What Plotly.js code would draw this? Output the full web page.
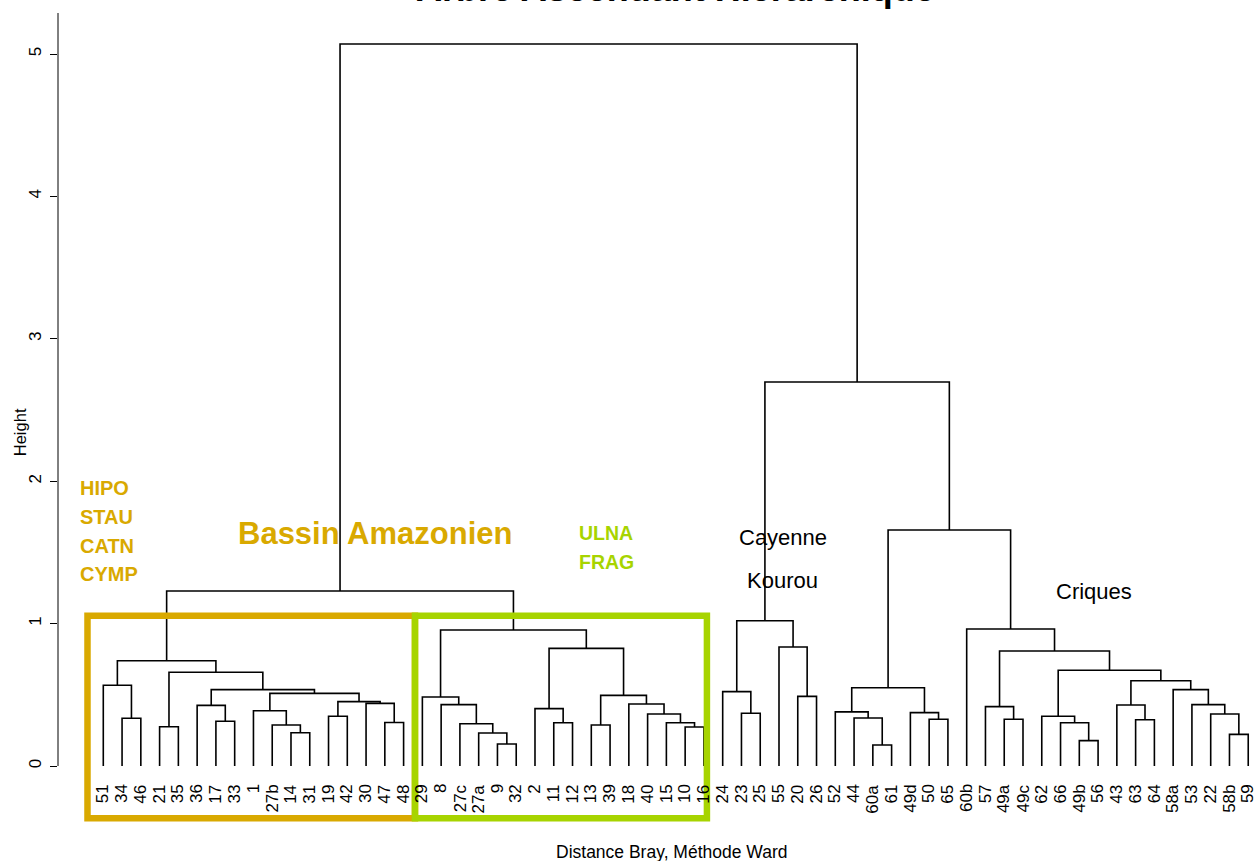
<!DOCTYPE html>
<html>
<head>
<meta charset="utf-8">
<script src="https://cdn.plot.ly/plotly-3.0.1.min.js"></script>
<style>html,body{margin:0;padding:0;background:#fff;}#chart{width:1257px;height:861px;}</style>
</head>
<body>
<div id="chart"></div>
<script>
// Leaf order (left to right)
const leafLabels = ["51","34","46","21","35","36","17","33","1","27b","14","31","19","42","30","47","48",
  "29","8","27c","27a","9","32","2","11","12","13","39","18","40","15","10","16",
  "24","23","25","55","20","26",
  "52","44","60a","61","49d","50","65",
  "60b","57","49a","49c","62","66","49b","56","43","63","64","58a","53","22","58b","59"];

// Merges: children (leaf label or "m<k>" = k-th merge) and merge height
const mergeLeft  = ["34","51","21","17","36","14","27b","1","19","47","30","m8","m7","m4","m2","m1",
  "9","27a","27c","8","29","11","2","13","10","15","40","18","m23","m22","m20","m15",
  "23","24","20","55","m33",
  "60a","44","52","50","49d","m39",
  "49a","57","49b","66","62","63","43","58b","22","53","58a","m49","m47","m44","60b","m42","m36","m31"];
const mergeRight = ["46","m0","35","33","m3","31","m5","m6","42","48","m9","m10","m11","m12","m13","m14",
  "32","m16","m17","m18","m19","12","m21","39","16","m24","m25","m26","m27","m28","m29","m30",
  "25","m32","26","m34","m35",
  "61","m37","m38","65","m40","m41",
  "49c","m43","56","m45","m46","64","m48","59","m50","m51","m52","m53","m54","m55","m56","m57","m58","m59"];
const mergeHeight = [0.335,0.567,0.276,0.314,0.426,0.234,0.288,0.388,0.349,0.306,0.440,0.452,0.510,0.536,0.658,0.739,
  0.154,0.232,0.297,0.431,0.485,0.304,0.403,0.288,0.274,0.304,0.365,0.435,0.496,0.826,0.955,1.229,
  0.370,0.522,0.489,0.836,1.020,
  0.147,0.337,0.380,0.328,0.375,0.550,
  0.328,0.417,0.178,0.304,0.349,0.325,0.428,0.222,0.365,0.431,0.536,0.599,0.672,0.808,0.962,1.657,2.697,5.070];

const yTicks = [0,1,2,3,4,5];

const pos = {};
leafLabels.forEach((l,i)=>{ pos[l] = {x:i+1, h:0}; });
const xs = [], ys = [];
mergeLeft.forEach((a,k)=>{
  const A = pos[a], B = pos[mergeRight[k]], H = mergeHeight[k];
  xs.push(A.x, A.x, B.x, B.x, null);
  ys.push(A.h, H, H, B.h, null);
  pos['m'+k] = {x:(A.x+B.x)/2, h:H};
});

const FONT = 'Liberation Sans, Arial, sans-serif';
const ORANGE = '#D9A900';
const GREEN = '#A7D400';

const annotations = leafLabels.map((l,i)=>({
  x:i+1, y:-0.115, xref:'x', yref:'y', text:l, showarrow:false,
  textangle:-90, xanchor:'center', yanchor:'top',
  font:{family:FONT, size:17, color:'#000'}
}));

function txt(text, x, y, size, color, bold, xanchor){
  annotations.push({x:x, y:y, xref:'x', yref:'y', text: bold ? '<b>'+text+'</b>' : text,
    showarrow:false, xanchor:xanchor||'center', yanchor:'middle',
    font:{family:FONT, size:size, color:color}});
}
txt('HIPO', -0.33, 1.952, 20, ORANGE, true, 'left');
txt('STAU', -0.33, 1.749, 20, ORANGE, true, 'left');
txt('CATN', -0.33, 1.545, 20, ORANGE, true, 'left');
txt('CYMP', -0.33, 1.348, 20, ORANGE, true, 'left');
txt('Bassin Amazonien', 15.45, 1.636, 31, ORANGE, true);
txt('ULNA', 26.22, 1.636, 19.5, GREEN, true, 'left');
txt('FRAG', 26.22, 1.433, 19.5, GREEN, true, 'left');
txt('Cayenne', 37.21, 1.608, 22, '#000', false);
txt('Kourou', 37.21, 1.306, 22, '#000', false);
txt('Criques', 53.78, 1.222, 22, '#000', false);

// axis titles / main title
annotations.push({xref:'paper', yref:'paper', x:(675-58)/1199, y:1.0025, yanchor:'bottom', xanchor:'center',
  text:'<b>Arbre Ascendant Hiérarchique</b>', showarrow:false, font:{family:FONT, size:36, color:'#000'}});
annotations.push({xref:'paper', yref:'paper', x:(671-58)/1199, y:-0.033, yanchor:'middle', xanchor:'center',
  text:'Distance Bray, Méthode Ward', showarrow:false, font:{family:FONT, size:17.5, color:'#000'}});
annotations.push({xref:'paper', yref:'paper', x:-0.0315, y:(825-432)/812, yanchor:'middle', xanchor:'center',
  textangle:-90, text:'Height', showarrow:false, font:{family:FONT, size:16.5, color:'#000'}});

const shapes = [
  {type:'line', xref:'paper', yref:'y', x0:0, x1:0, y0:0, y1:5.288, line:{color:'#000', width:1}},
  {type:'rect', xref:'x', yref:'y', x0:0.158, x1:17.606, y0:-0.367, y1:1.0555, line:{color:ORANGE, width:6.5}},
  {type:'rect', xref:'x', yref:'y', x0:17.606, x1:33.16, y0:-0.367, y1:1.0555, line:{color:GREEN, width:6.5}}
];

const trace = {x:xs, y:ys, type:'scatter', mode:'lines', line:{color:'#000', width:1.6},
  hoverinfo:'skip', showlegend:false};

const layout = {
  width:1257, height:861,
  margin:{l:58, r:0, t:13, b:36, pad:0},
  paper_bgcolor:'#fff', plot_bgcolor:'#fff',
  xaxis:{range:[-1.413, 62.467], visible:false, fixedrange:true},
  yaxis:{range:[-(825-766)/142.4, (766-13)/142.4], showgrid:false, zeroline:false, showline:false,
    tickvals:yTicks, ticktext:yTicks.map(String), ticks:'outside', ticklen:7, tickwidth:1, tickcolor:'#000',
    tickangle:-90, ticklabelstandoff:2, tickfont:{family:FONT, size:17, color:'#000'}},
  annotations:annotations,
  shapes:shapes,
  showlegend:false
};

Plotly.newPlot('chart', [trace], layout, {staticPlot:true, displayModeBar:false});
</script>
</body>
</html>
